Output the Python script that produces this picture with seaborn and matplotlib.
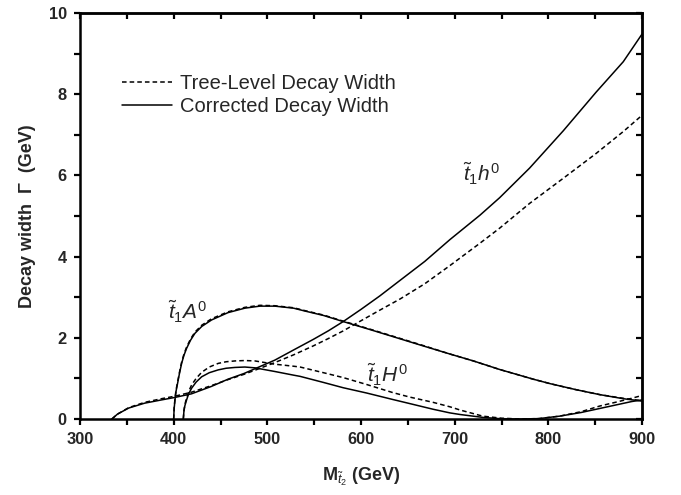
import numpy as np
import pandas as pd
import matplotlib
matplotlib.use("Agg")
import matplotlib.pyplot as plt
import seaborn as sns
from matplotlib.ticker import MultipleLocator

# ---------------- data ----------------
TREE = "Tree-Level Decay Width"
CORR = "Corrected Decay Width"

# t1 h0 channel
h0_mass = [334, 340, 352, 369, 387, 401, 419, 440, 458, 475, 490, 508, 528, 549,
           565, 581, 600, 620, 642, 668, 695, 727, 748, 780, 816, 851, 880, 900]
h0_tree = [0.0, 0.12, 0.28, 0.41, 0.50, 0.56, 0.66, 0.82, 0.97, 1.10, 1.23, 1.39, 1.58, 1.80,
           1.98, 2.17, 2.42, 2.68, 2.96, 3.33, 3.78, 4.33, 4.70, 5.31, 5.93, 6.54, 7.08, 7.48]
h0_corr = [0.0, 0.12, 0.27, 0.39, 0.47, 0.53, 0.62, 0.80, 0.98, 1.12, 1.27, 1.45, 1.70, 1.96,
           2.17, 2.40, 2.70, 3.03, 3.42, 3.88, 4.42, 5.02, 5.45, 6.18, 7.10, 8.05, 8.80, 9.48]

# t1 A0 channel
A0_mass = [400.0, 400.5, 401.4, 402.5, 404.2, 406, 408.5, 411, 413.8, 418, 422.7, 430,
           440.5, 458, 476, 492, 508, 528, 540, 560, 581, 610, 634, 665, 695, 720, 748,
           784, 802, 830, 855, 880, 900]
A0_tree = [0.0, 0.27, 0.50, 0.71, 0.91, 1.13, 1.40, 1.60, 1.77, 1.97, 2.14, 2.31,
           2.47, 2.64, 2.75, 2.80, 2.79, 2.74, 2.67, 2.56, 2.41, 2.21, 2.04, 1.82, 1.60, 1.43, 1.22,
           0.98, 0.87, 0.72, 0.60, 0.51, 0.45]
A0_corr = [0.0, 0.25, 0.47, 0.68, 0.88, 1.10, 1.37, 1.57, 1.74, 1.94, 2.11, 2.28,
           2.44, 2.62, 2.73, 2.78, 2.78, 2.73, 2.66, 2.55, 2.40, 2.20, 2.03, 1.81, 1.60, 1.43, 1.22,
           0.98, 0.87, 0.72, 0.60, 0.50, 0.44]

# t1 H0 channel
H0_mass = [410.3, 411, 412, 413.8, 416, 419.2, 424, 429.9, 438, 447.6, 456, 465.4, 476,
           486.8, 508, 528, 535, 560, 581, 606, 634, 652, 677, 695, 706, 730, 750, 770,
           790, 812, 835, 855, 875, 889, 900]
H0_tree = [0.0, 0.22, 0.36, 0.52, 0.68, 0.84, 1.00, 1.15, 1.28, 1.37, 1.41, 1.43, 1.44,
           1.43, 1.35, 1.30, 1.28, 1.14, 1.02, 0.85, 0.65, 0.54, 0.41, 0.30, 0.22, 0.07, 0.02, 0.0,
           0.01, 0.07, 0.18, 0.32, 0.43, 0.51, 0.58]
H0_corr = [0.0, 0.20, 0.33, 0.47, 0.62, 0.76, 0.91, 1.04, 1.14, 1.21, 1.25, 1.27, 1.28,
           1.26, 1.17, 1.08, 1.05, 0.90, 0.77, 0.64, 0.48, 0.38, 0.24, 0.15, 0.11, 0.04, 0.005, 0.0,
           0.01, 0.07, 0.16, 0.26, 0.36, 0.43, 0.47]

x_ticks = [300, 400, 500, 600, 700, 800, 900]
y_ticks = [0, 2, 4, 6, 8, 10]

# ---------------- build long table ----------------
frames = []
for name, m, g, kind in [("h0_tree", h0_mass, h0_tree, TREE), ("h0_corr", h0_mass, h0_corr, CORR),
                         ("A0_tree", A0_mass, A0_tree, TREE), ("A0_corr", A0_mass, A0_corr, CORR),
                         ("H0_tree", H0_mass, H0_tree, TREE), ("H0_corr", H0_mass, H0_corr, CORR)]:
    frames.append(pd.DataFrame({"M": m, "Gamma": g, "curve": name, "kind": kind}))
df = pd.concat(frames, ignore_index=True)

# ---------------- style ----------------
sns.set_theme(style="ticks")
plt.rcParams['font.family'] = ['Liberation Sans', 'DejaVu Sans']
plt.rcParams['mathtext.fontset'] = 'custom'
plt.rcParams['mathtext.rm'] = 'Liberation Sans'
plt.rcParams['mathtext.it'] = 'Liberation Sans:italic'
plt.rcParams['mathtext.bf'] = 'Liberation Sans:bold'

fig = plt.figure(figsize=(6.81, 4.95), dpi=100)
ax = fig.add_axes([80/681, 1 - 419/495, 562/681, 406/495])

sns.lineplot(data=df, x="M", y="Gamma", units="curve", style="kind",
             style_order=[TREE, CORR], dashes={TREE: (3, 2), CORR: ""},
             estimator=None, sort=False, color="black", linewidth=1.1, ax=ax)

ax.set_xlim(300, 900)
ax.set_ylim(0, 10)
ax.set_xticks(x_ticks)
ax.set_yticks(y_ticks)
ax.xaxis.set_minor_locator(MultipleLocator(50))
ax.yaxis.set_minor_locator(MultipleLocator(1))

for s in ax.spines.values():
    s.set_visible(True)
    s.set_linewidth(1.8)
    s.set_color("black")

ax.tick_params(axis='both', which='major', direction='out', length=4.5, width=1.6,
               color='black', labelsize=11.8, pad=5, top=False, right=False)
ax.tick_params(axis='both', which='minor', direction='out', length=4.0, width=1.6,
               color='black', top=False, right=False)
for lab in ax.get_xticklabels() + ax.get_yticklabels():
    lab.set_fontweight('bold')

secx = ax.secondary_xaxis('top')
secx.set_xticks(x_ticks)
secx.xaxis.set_minor_locator(MultipleLocator(50))
secx.tick_params(axis='x', which='both', direction='in', length=4.5, width=1.6,
                 labeltop=False, color='black')
secx.spines['top'].set_linewidth(1.8)
secy = ax.secondary_yaxis('right')
secy.set_yticks(y_ticks)
secy.yaxis.set_minor_locator(MultipleLocator(1))
secy.tick_params(axis='y', which='both', direction='in', length=4.5, width=1.6,
                 labelright=False, color='black')
secy.spines['right'].set_linewidth(1.8)

ax.set_xlabel(r"M$_{\tilde{t}_2}$ (GeV)", fontsize=13, fontweight='bold')
ax.set_ylabel("Decay width  Γ  (GeV)", fontsize=13, fontweight='bold')
ax.xaxis.set_label_coords(0.5, -0.115)
ax.yaxis.set_label_coords(-0.078, 0.5)

handles, labels = ax.get_legend_handles_labels()
ax.legend(handles, labels, loc='upper left', bbox_to_anchor=(0.0747, 0.85),
          frameon=False, fontsize=14.5, handlelength=2.5, handletextpad=0.4,
          labelspacing=0.2, borderpad=0, borderaxespad=0)

ax.text(709, 5.85, r"$\tilde{t}_1h^0$", fontsize=15, ha='left', va='baseline')
ax.text(394, 2.45, r"$\tilde{t}_1A^0$", fontsize=15, ha='left', va='baseline')
ax.text(606, 0.89, r"$\tilde{t}_1H^0$", fontsize=15, ha='left', va='baseline')

fig.savefig("out.png", dpi=100)
